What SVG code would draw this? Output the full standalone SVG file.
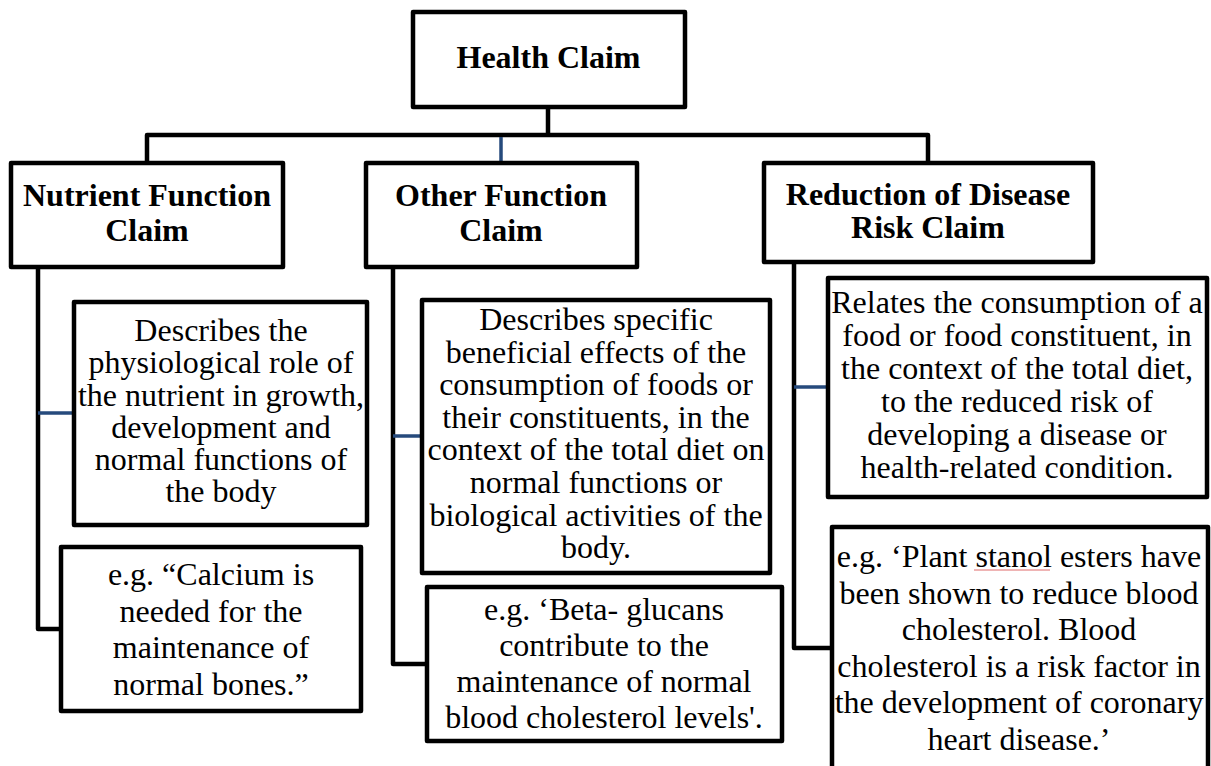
<svg xmlns="http://www.w3.org/2000/svg" width="1211" height="766" viewBox="0 0 1211 766">
  <style>
    .box { fill: #ffffff; stroke: #000000; stroke-width: 4.5; stroke-linejoin: round; }
    .wire { fill: none; stroke: #000000; stroke-width: 4.5; stroke-linejoin: round; stroke-linecap: square; }
    .blue { fill: none; stroke: #264a7c; stroke-width: 3.5; }
    .head { font-weight: bold; font-size: 32px; text-anchor: middle; fill: #000000; }
    .txt { font-size: 32px; text-anchor: middle; fill: #000000; }
    .spell { fill: none; stroke: #e06a6a; stroke-width: 1; }
  </style>
  <rect width="1211" height="766" fill="#ffffff"/>

  <!-- connectors -->
  <g id="connectors">
    <path class="wire" d="M548 107 V135 M147 160 V135 H928 V160"/>
    <path class="blue" d="M501 137 V163"/>
    <!-- left branch -->
    <path class="wire" d="M38 267 V629 H61"/>
    <path class="blue" d="M38 413 H74"/>
    <!-- middle branch -->
    <path class="wire" d="M393 267 V664 H427"/>
    <path class="blue" d="M393 436 H422"/>
    <!-- right branch -->
    <path class="wire" d="M794 262 V648 H832"/>
    <path class="blue" d="M794 387 H828"/>
  </g>

  <g font-family="Liberation Serif, Tinos, Times New Roman, DejaVu Serif, serif">
  <g id="health-claim">
    <rect class="box" x="413" y="12" width="272" height="95"/>
    <text class="head" x="548.5" y="68">Health Claim</text>
  </g>

  <g id="nutrient-function">
    <rect class="box" x="11" y="163" width="272" height="104"/>
    <text class="head" x="147" y="206">Nutrient Function</text>
    <text class="head" x="147" y="241">Claim</text>
  </g>

  <g id="other-function">
    <rect class="box" x="366" y="163" width="271" height="104"/>
    <text class="head" x="501" y="206">Other Function</text>
    <text class="head" x="501" y="241">Claim</text>
  </g>

  <g id="disease-risk">
    <rect class="box" x="764" y="163" width="329" height="99"/>
    <text class="head" x="928" y="205">Reduction of Disease</text>
    <text class="head" x="928" y="238">Risk Claim</text>
  </g>

  <g id="nutrient-description">
    <rect class="box" x="74" y="302" width="293" height="223"/>
    <text class="txt" x="221" y="341">Describes the</text>
    <text class="txt" x="221" y="373">physiological role of</text>
    <text class="txt" x="221" y="405.5">the nutrient in growth,</text>
    <text class="txt" x="221" y="438">development and</text>
    <text class="txt" x="221" y="470">normal functions of</text>
    <text class="txt" x="221" y="502">the body</text>
  </g>

  <g id="nutrient-example">
    <rect class="box" x="61" y="547" width="300" height="164"/>
    <text class="txt" x="211" y="585">e.g. “Calcium is</text>
    <text class="txt" x="211" y="622">needed for the</text>
    <text class="txt" x="211" y="658">maintenance of</text>
    <text class="txt" x="211" y="695">normal bones.”</text>
  </g>

  <g id="other-description">
    <rect class="box" x="422" y="300" width="348" height="273"/>
    <text class="txt" x="596" y="330">Describes specific</text>
    <text class="txt" x="596" y="362.6">beneficial effects of the</text>
    <text class="txt" x="596" y="395.2">consumption of foods or</text>
    <text class="txt" x="596" y="427.8">their constituents, in the</text>
    <text class="txt" x="596" y="460.4">context of the total diet on</text>
    <text class="txt" x="596" y="493">normal functions or</text>
    <text class="txt" x="596" y="525.6">biological activities of the</text>
    <text class="txt" x="596" y="558">body.</text>
  </g>

  <g id="other-example">
    <rect class="box" x="427" y="587" width="355" height="154"/>
    <text class="txt" x="604" y="620">e.g. ‘Beta- glucans</text>
    <text class="txt" x="604" y="656">contribute to the</text>
    <text class="txt" x="604" y="692">maintenance of normal</text>
    <text class="txt" x="604" y="728">blood cholesterol levels'.</text>
  </g>

  <g id="risk-description">
    <rect class="box" x="828" y="278" width="379" height="219"/>
    <text class="txt" x="1017" y="313">Relates the consumption of a</text>
    <text class="txt" x="1017" y="346">food or food constituent, in</text>
    <text class="txt" x="1017" y="379">the context of the total diet,</text>
    <text class="txt" x="1017" y="412">to the reduced risk of</text>
    <text class="txt" x="1017" y="445">developing a disease or</text>
    <text class="txt" x="1017" y="478">health-related condition.</text>
  </g>

  <g id="risk-example">
    <rect class="box" x="832" y="527" width="376" height="260"/>
    <text class="txt" x="1019" y="567">e.g. ‘Plant stanol esters have</text>
    <path class="spell" d="M974 570 H1050"/>
    <text class="txt" x="1019" y="603.6">been shown to reduce blood</text>
    <text class="txt" x="1019" y="640.2">cholesterol. Blood</text>
    <text class="txt" x="1019" y="676.8">cholesterol is a risk factor in</text>
    <text class="txt" x="1019" y="713.4">the development of coronary</text>
    <text class="txt" x="1019" y="750">heart disease.’</text>
  </g>
  </g>
</svg>
